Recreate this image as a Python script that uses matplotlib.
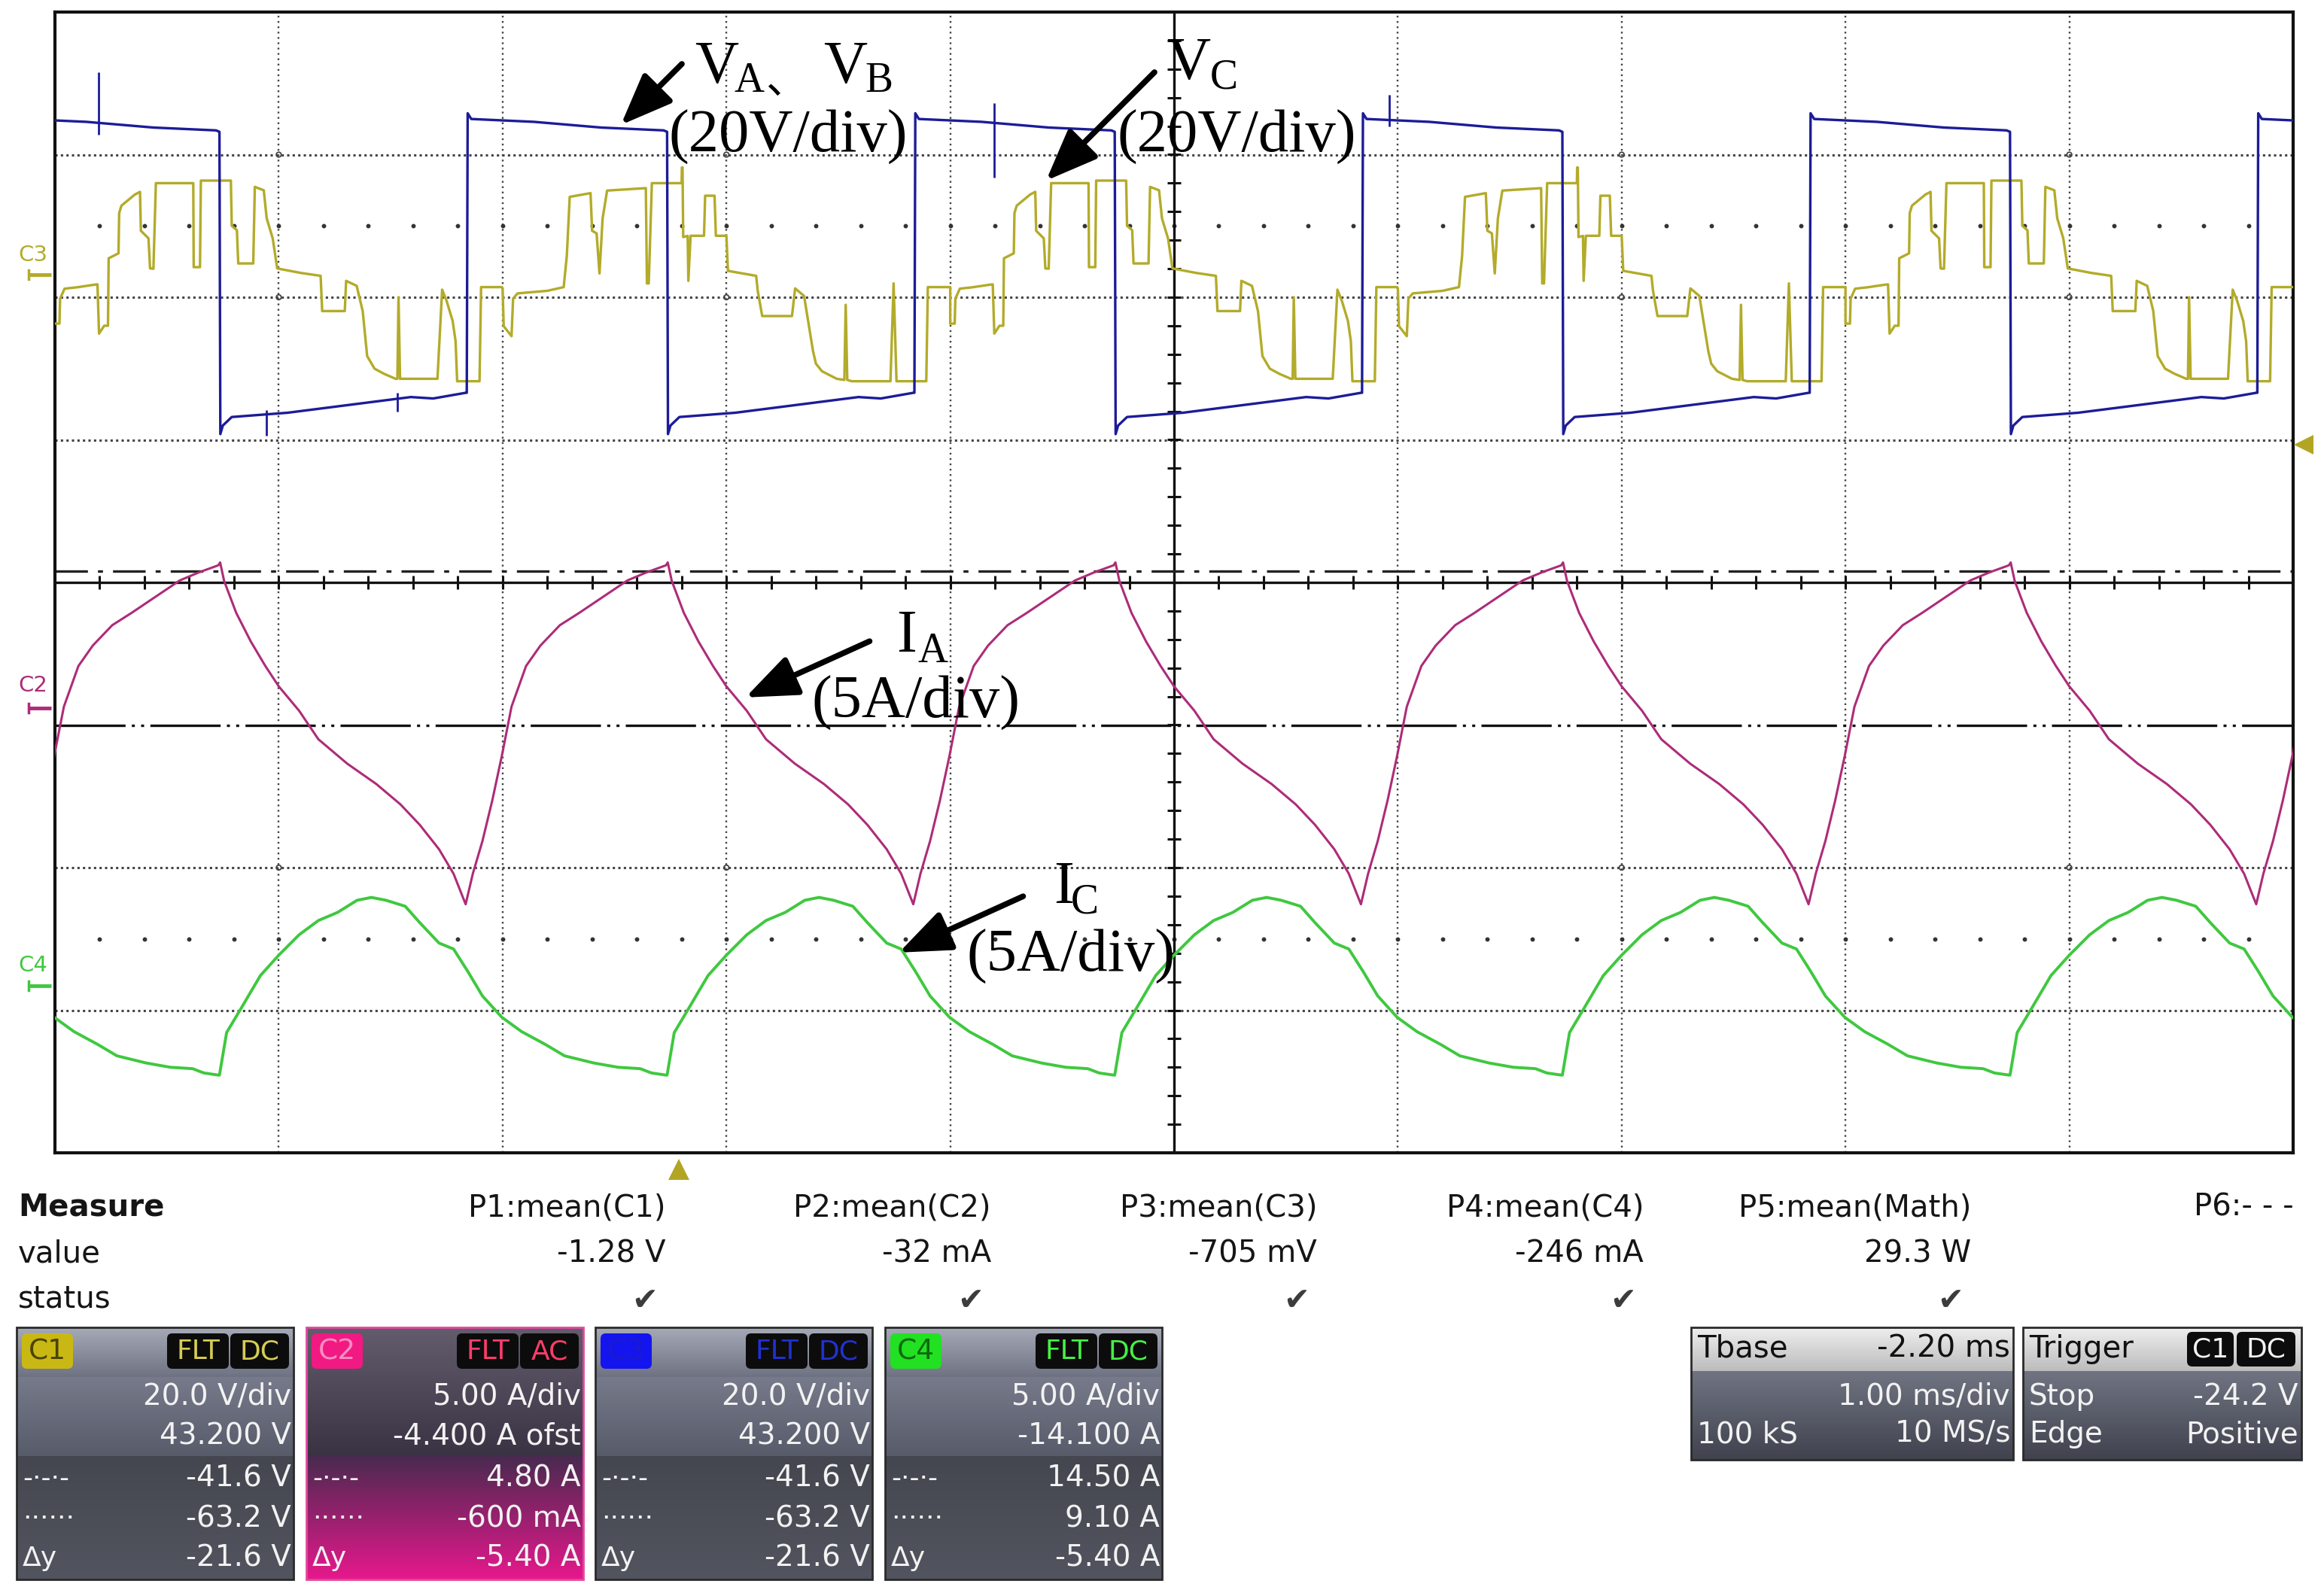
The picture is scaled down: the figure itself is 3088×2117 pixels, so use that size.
import numpy as np
import matplotlib.pyplot as plt
import matplotlib.colors as mcolors
from matplotlib.patches import FancyBboxPatch, Polygon, FancyArrowPatch, Rectangle

W, H = 3088, 2117

# ---------------- waveforms in divisions ----------------
# screen is 10 div wide (1 ms/div) and 8 div high

# C1/C3 blue square wave (V_A, V_B), one period measured from a rising edge
blue_phase = [0.0, 0.004, 0.02, 0.30, 0.60, 0.88, 0.895, 0.899, 0.91, 0.95,
              1.20, 1.50, 1.75, 1.85, 1.996]
blue_level = [5.33, 7.29, 7.25, 7.23, 7.19, 7.17, 7.16, 5.04, 5.10, 5.16,
              5.19, 5.25, 5.30, 5.29, 5.33]
blue_rise = [-0.16, 1.84, 3.84, 5.84, 7.84, 9.84]
blue_spike_x = [0.195, 0.945, 1.53, 4.195, 5.96]
blue_spike_hi = [7.58, 5.21, 5.33, 7.36, 7.42]
blue_spike_lo = [7.14, 5.03, 5.20, 6.84, 7.20]

# C3 yellow multilevel (V_C): two measured periods that alternate
yel_a_t = [0.0, 0.02, 0.023, 0.043, 0.10, 0.177, 0.19, 0.197, 0.22, 0.237, 0.24,
           0.284, 0.287, 0.297, 0.357, 0.38, 0.384, 0.418, 0.425, 0.44, 0.451,
           0.618, 0.62, 0.648, 0.652, 0.786, 0.79, 0.813, 0.819, 0.886, 0.893,
           0.933, 0.946, 0.973, 0.993, 1.10, 1.187, 1.194, 1.295, 1.301, 1.348,
           1.375, 1.395, 1.428, 1.469, 1.522, 1.53, 1.535, 1.542, 1.709, 1.73,
           1.75, 1.777, 1.79, 1.797, 1.897, 1.904, 1.997]
yel_a_v = [5.815, 5.815, 5.99, 6.06, 6.07, 6.088, 6.09, 5.745, 5.80, 5.80, 6.273,
           6.308, 6.59, 6.642, 6.72, 6.739, 6.466, 6.413, 6.202, 6.20, 6.80,
           6.80, 6.211, 6.211, 6.818, 6.818, 6.501, 6.47, 6.237, 6.237, 6.774,
           6.75, 6.554, 6.413, 6.202, 6.17, 6.15, 5.903, 5.903, 6.115, 6.08,
           5.903, 5.587, 5.499, 5.464, 5.428, 5.428, 6.0, 5.428, 5.428, 6.053,
           5.974, 5.833, 5.692, 5.411, 5.411, 6.071, 6.071]
yel_b_t = [0.0, 0.005, 0.04, 0.047, 0.067, 0.20, 0.273, 0.287, 0.30, 0.393, 0.40,
           0.42, 0.433, 0.447, 0.467, 0.64, 0.645, 0.653, 0.667, 0.80, 0.801,
           0.804, 0.807, 0.827, 0.83, 0.84, 0.90, 0.905, 0.947, 0.953, 1.0, 1.007,
           1.133, 1.14, 1.16, 1.293, 1.307, 1.347, 1.367, 1.387, 1.40, 1.427,
           1.493, 1.527, 1.533, 1.54, 1.56, 1.733, 1.747, 1.76, 1.893, 1.90, 2.0]
yel_b_v = [6.062, 5.797, 5.727, 5.991, 6.027, 6.045, 6.071, 6.29, 6.704, 6.73,
           6.466, 6.448, 6.167, 6.554, 6.748, 6.765, 6.097, 6.097, 6.80, 6.80,
           6.91, 6.91, 6.422, 6.43, 6.115, 6.431, 6.431, 6.712, 6.712, 6.431,
           6.431, 6.185, 6.15, 6.045, 5.868, 5.868, 6.062, 6.009, 5.815, 5.622,
           5.534, 5.481, 5.428, 5.42, 5.947, 5.42, 5.411, 5.411, 6.097, 5.411,
           5.411, 6.071, 6.071]
yel_a_starts = [0.0, 4.0, 8.0]
yel_b_starts = [2.0, 6.0]

# C2 magenta current I_A, one period measured from its minimum
pink_phase = [0.0, 0.032, 0.075, 0.119, 0.162, 0.205, 0.27, 0.334, 0.421, 0.507,
              0.615, 0.723, 0.809, 0.895, 0.903, 0.921, 0.975, 1.04, 1.105, 1.165,
              1.256, 1.342, 1.471, 1.601, 1.709, 1.795, 1.881, 1.946, 2.0]
pink_level = [1.743, 1.957, 2.186, 2.471, 2.786, 3.129, 3.414, 3.557, 3.70, 3.786,
              3.90, 4.014, 4.071, 4.12, 4.14, 4.01, 3.786, 3.586, 3.414, 3.271,
              3.10, 2.90, 2.729, 2.586, 2.443, 2.30, 2.129, 1.957, 1.743]
pink_min = [-0.165, 1.835, 3.835, 5.835, 7.835, 9.835]

# C4 green current I_C, one period measured from its step
green_phase = [0.0, 0.032, 0.097, 0.183, 0.265, 0.356, 0.442, 0.528, 0.615, 0.679,
               0.744, 0.83, 0.895, 0.981, 1.046, 1.11, 1.175, 1.262, 1.35, 1.456,
               1.542, 1.672, 1.78, 1.88, 1.93, 1.995]
green_level = [0.545, 0.843, 1.014, 1.243, 1.386, 1.529, 1.629, 1.686, 1.771, 1.791,
               1.771, 1.729, 1.614, 1.471, 1.429, 1.271, 1.10, 0.95, 0.85, 0.76,
               0.68, 0.63, 0.60, 0.59, 0.56, 0.545]
green_step = [-1.265, 0.735, 2.735, 4.735, 6.735, 8.735]

# ---------------- measurement panel texts ----------------
meas_names = ["P1:mean(C1)", "P2:mean(C2)", "P3:mean(C3)", "P4:mean(C4)",
              "P5:mean(Math)", "P6:- - -"]
meas_values = ["-1.28 V", "-32 mA", "-705 mV", "-246 mA", "29.3 W", ""]
ch_names = ["C1", "C2", "C3", "C4"]
ch_rows = [["20.0 V/div", "43.200 V", "-41.6 V", "-63.2 V", "-21.6 V"],
           ["5.00 A/div", "-4.400 A ofst", "4.80 A", "-600 mA", "-5.40 A"],
           ["20.0 V/div", "43.200 V", "-41.6 V", "-63.2 V", "-21.6 V"],
           ["5.00 A/div", "-14.100 A", "14.50 A", "9.10 A", "-5.40 A"]]
ch_coupling = ["DC", "AC", "DC", "DC"]

BLUE = "#1c1c98"
YEL = "#b3ab2a"
PINK = "#ad2c78"
GREEN = "#3fc83f"


def build(starts, phase, level):
    xs, ys = [], []
    for s in starts:
        xs.extend(s + p for p in phase)
        ys.extend(level)
    return np.array(xs), np.array(ys)


fig = plt.figure(figsize=(W / 100, H / 100), dpi=100)
fig.patch.set_facecolor("white")

# ---------------- scope screen ----------------
ax = fig.add_axes([73 / W, 1 - 1532 / H, 2974 / W, 1516 / H])
ax.set_xlim(0, 10)
ax.set_ylim(0, 8)
ax.set_xticks([])
ax.set_yticks([])
for sp in ax.spines.values():
    sp.set_linewidth(3)
    sp.set_color("#111111")

for gx in [1, 2, 3, 4, 6, 7, 8, 9]:
    ax.axvline(gx, color="#444444", lw=1.7, ls=(0, (1, 2.0)), zorder=1)
for gy in [1, 2, 5, 6, 7]:
    ax.axhline(gy, color="#444444", lw=2.2, ls=(0, (1, 1.4)), zorder=1)
dots = np.arange(0.2, 10.0, 0.2)
for gy in [1.5, 6.5]:
    ax.plot(dots, np.full_like(dots, gy), "o", ms=3.2, color="#333333", zorder=1)
cx = np.array([1, 3, 7, 9, 1, 3, 7, 9, 1, 3, 7, 9])
cy = np.array([7, 7, 7, 7, 6, 6, 6, 6, 2, 2, 2, 2])
ax.scatter(cx, cy, s=22, facecolors="none", edgecolors="#444444", lw=1.3, zorder=2)

# center axes with minor ticks
ax.axhline(4, color="#111111", lw=2.4, zorder=2)
ax.axvline(5, color="#111111", lw=2.4, zorder=2)
ticks_x = np.arange(0.2, 10.0, 0.2)
ax.vlines(ticks_x, 4 - 0.045, 4 + 0.045, color="#111111", lw=2.2, zorder=2)
ticks_y = np.arange(0.2, 8.0, 0.2)
ax.hlines(ticks_y, 5 - 0.03, 5 + 0.03, color="#111111", lw=2.2, zorder=2)
ax.axhline(4.08, color="#222222", lw=2.4, ls=(0, (13, 4, 2, 4)), zorder=2)
ax.axhline(3.0, color="#111111", lw=2.4, ls=(0, (28, 2.5, 1.2, 2.5, 1.2, 2.5)), zorder=2)

# traces
yel_x, yel_y = [], []
for s in sorted(yel_a_starts + yel_b_starts):
    ph, lv = (yel_a_t, yel_a_v) if s in yel_a_starts else (yel_b_t, yel_b_v)
    yel_x.extend(s + p for p in ph)
    yel_y.extend(lv)
ax.plot(yel_x, yel_y, color=YEL, lw=2.4, zorder=3)

bx, by = build(blue_rise, blue_phase, blue_level)
ax.plot(bx, by, color=BLUE, lw=2.4, zorder=4)
ax.vlines(blue_spike_x, blue_spike_lo, blue_spike_hi, color=BLUE, lw=2.0, zorder=4)

px, py = build(pink_min, pink_phase, pink_level)
ax.plot(px, py, color=PINK, lw=2.2, zorder=4)

gx_, gy_ = build(green_step, green_phase, green_level)
ax.plot(gx_, gy_, color=GREEN, lw=2.8, zorder=4)

# ---------------- overlay in pixel coordinates ----------------
ov = fig.add_axes([0, 0, 1, 1], zorder=5)
ov.patch.set_alpha(0)
ov.set_axis_off()
ov.set_autoscale_on(False)
ov.set_xlim(0, W)
ov.set_ylim(H, 0)


def grad(x0, y0, x1, y1, c_top, c_bot, z=1):
    t = np.linspace(0, 1, 64)[:, None, None]
    top = np.array(mcolors.to_rgb(c_top))
    bot = np.array(mcolors.to_rgb(c_bot))
    img = top + (bot - top) * t
    ov.imshow(img, extent=[x0, x1, y1, y0], aspect="auto",
              interpolation="bilinear", zorder=z)


def badge(x0, y0, w, h, fc, txt, tc, size=26):
    ov.add_patch(FancyBboxPatch((x0, y0), w, h, boxstyle="round,pad=0,rounding_size=7",
                                fc=fc, ec="none", zorder=3))
    ov.text(x0 + w / 2, y0 + h / 2 + 1, txt, color=tc, fontsize=size,
            ha="center", va="center", zorder=4)


serif = "Liberation Serif"


def stxt(x, y, s, size=58, **kw):
    ov.text(x, y, s, fontsize=size, family=serif, va="baseline", ha="left",
            color="black", zorder=6, **kw)


def arrow(x0, y0, x1, y1):
    ov.add_patch(FancyArrowPatch((x0, y0), (x1, y1),
                                 arrowstyle="-|>,head_length=1.5,head_width=0.6",
                                 mutation_scale=28, lw=5.5, color="black", zorder=6))


# labels on traces
stxt(923, 110, "V")
stxt(975, 122, "A", size=40)
ov.text(1017, 124, "、", fontsize=40, family="Noto Sans CJK SC", va="baseline",
        ha="left", color="black", zorder=6)
stxt(1094, 110, "V")
stxt(1149, 122, "B", size=40)
stxt(889, 202, "(20V/div)")
arrow(908, 83, 823, 168)

stxt(1550, 105, "V")
stxt(1608, 117, "C", size=40)
stxt(1484, 202, "(20V/div)")
arrow(1536, 94, 1388, 242)

stxt(1191, 866, "I")
stxt(1219, 880, "A", size=40)
stxt(1079, 954, "(5A/div)")
arrow(1158, 851, 988, 928)

stxt(1400, 1200, "I")
stxt(1423, 1213, "C", size=40)
stxt(1284, 1291, "(5A/div)")
arrow(1362, 1190, 1192, 1267)

# channel offset markers at the left edge
for name, col, ty, my in [("C3", YEL, 339, 365), ("C2", PINK, 911, 941),
                          ("C4", GREEN, 1283, 1310)]:
    ov.text(24, ty, name, color=col, fontsize=21, va="center", ha="left", zorder=6)
    ov.plot([38, 68], [my, my], color=col, lw=3.5, solid_capstyle="butt", zorder=6)
    ov.plot([38, 38], [my - 6, my + 6], color=col, lw=2.5, zorder=6)

# trigger markers
ov.add_patch(Polygon([(888, 1568), (916, 1568), (902, 1540)], closed=True,
                     fc="#b2a524", ec="none", zorder=6))
ov.add_patch(Polygon([(3048, 591), (3074, 578), (3074, 604)], closed=True,
                     fc="#b2a524", ec="none", zorder=6))

# ---------------- measure table ----------------
TXT = "#151515"
ov.text(24, 1605, "Measure", fontsize=29, fontweight="bold", color=TXT, va="center")
ov.text(24, 1666, "value", fontsize=29, color=TXT, va="center")
ov.text(24, 1727, "status", fontsize=29, color=TXT, va="center")
col_right = [884, 1317, 1750, 2184, 2619, 3048]
for i, (nm, val) in enumerate(zip(meas_names, meas_values)):
    ov.text(col_right[i], 1605, nm, fontsize=29, color=TXT, va="center", ha="right")
    if val:
        ov.text(col_right[i], 1666, val, fontsize=29, color=TXT, va="center", ha="right")
        ov.text(col_right[i] - 27, 1729, "\u2714", fontsize=30, color="#3c3c3c",
                va="center", ha="center", family="DejaVu Sans")

# channel boxes
box_x = [22, 407, 791, 1176]
badge_fc = ["#c9b814", "#f01a82", "#1414ee", "#22e022"]
badge_tc = ["#4a4300", "#ff8cc4", "#1a1ad0", "#0d6a0d"]
tag_tc = ["#d6cc55", "#ff3d6c", "#2230d0", "#46f046"]
row_y = [1856, 1909, 1965, 2018, 2071]
left_marks = ["-\u00b7-\u00b7-", "\u00b7\u00b7\u00b7\u00b7\u00b7\u00b7", "\u0394y"]
for i in range(4):
    x0 = box_x[i]
    x1 = x0 + 368
    if i == 1:
        grad(x0, 1764, x1, 1935, "#625c6c", "#3a3344")
        grad(x0, 1935, x1, 2099, "#4a2a50", "#e6188c")
        ec = "#e2489e"
    else:
        grad(x0, 1764, x1, 1830, "#a6aab7", "#6e7282")
        grad(x0, 1830, x1, 1935, "#767a8a", "#575b6a")
        grad(x0, 1935, x1, 2099, "#44474f", "#52555f")
        ec = "#2a2a2a"
    ov.add_patch(Rectangle((x0, 1764), 368, 335, fc="none", ec=ec, lw=2, zorder=2))
    badge(x0 + 7, 1772, 68, 47, badge_fc[i], ch_names[i], badge_tc[i], size=27)
    badge(x0 + 200, 1772, 82, 47, "#0c0c0c", "FLT", tag_tc[i])
    badge(x0 + 284, 1772, 78, 47, "#0c0c0c", ch_coupling[i], tag_tc[i])
    for j, s in enumerate(ch_rows[i]):
        ov.text(x1 - 3, row_y[j], s, fontsize=28, color="#f2f2f2", ha="right",
                va="center", zorder=4)
    for j, m in enumerate(left_marks):
        ov.text(x0 + 8, row_y[j + 2], m, fontsize=26, color="#f2f2f2", ha="left",
                va="center", zorder=4)

# timebase box
grad(2247, 1764, 2675, 1822, "#eeeeee", "#bcbcbc")
grad(2247, 1822, 2675, 1940, "#707482", "#40434e")
ov.add_patch(Rectangle((2247, 1764), 428, 176, fc="none", ec="#2a2a2a", lw=2, zorder=2))
ov.text(2255, 1793, "Tbase", fontsize=29, color="#111111", va="center", zorder=4)
ov.text(2671, 1793, "-2.20 ms", fontsize=29, color="#111111", va="center", ha="right", zorder=4)
ov.text(2671, 1856, "1.00 ms/div", fontsize=28, color="#f2f2f2", va="center", ha="right", zorder=4)
ov.text(2255, 1906, "100 kS", fontsize=28, color="#f2f2f2", va="center", zorder=4)
ov.text(2671, 1906, "10 MS/s", fontsize=28, color="#f2f2f2", va="center", ha="right", zorder=4)

# trigger box
grad(2688, 1764, 3058, 1822, "#eeeeee", "#bcbcbc")
grad(2688, 1822, 3058, 1940, "#707482", "#40434e")
ov.add_patch(Rectangle((2688, 1764), 370, 176, fc="none", ec="#2a2a2a", lw=2, zorder=2))
ov.text(2696, 1793, "Trigger", fontsize=29, color="#111111", va="center", zorder=4)
badge(2906, 1770, 62, 46, "#0c0c0c", "C1", "#f2f2f2")
badge(2972, 1770, 78, 46, "#0c0c0c", "DC", "#f2f2f2")
ov.text(2696, 1856, "Stop", fontsize=28, color="#f2f2f2", va="center", zorder=4)
ov.text(3054, 1856, "-24.2 V", fontsize=28, color="#f2f2f2", va="center", ha="right", zorder=4)
ov.text(2696, 1906, "Edge", fontsize=28, color="#f2f2f2", va="center", zorder=4)
ov.text(3054, 1906, "Positive", fontsize=28, color="#f2f2f2", va="center", ha="right", zorder=4)

ov.set_xlim(0, W)
ov.set_ylim(H, 0)

fig.savefig("out.png", dpi=100)
